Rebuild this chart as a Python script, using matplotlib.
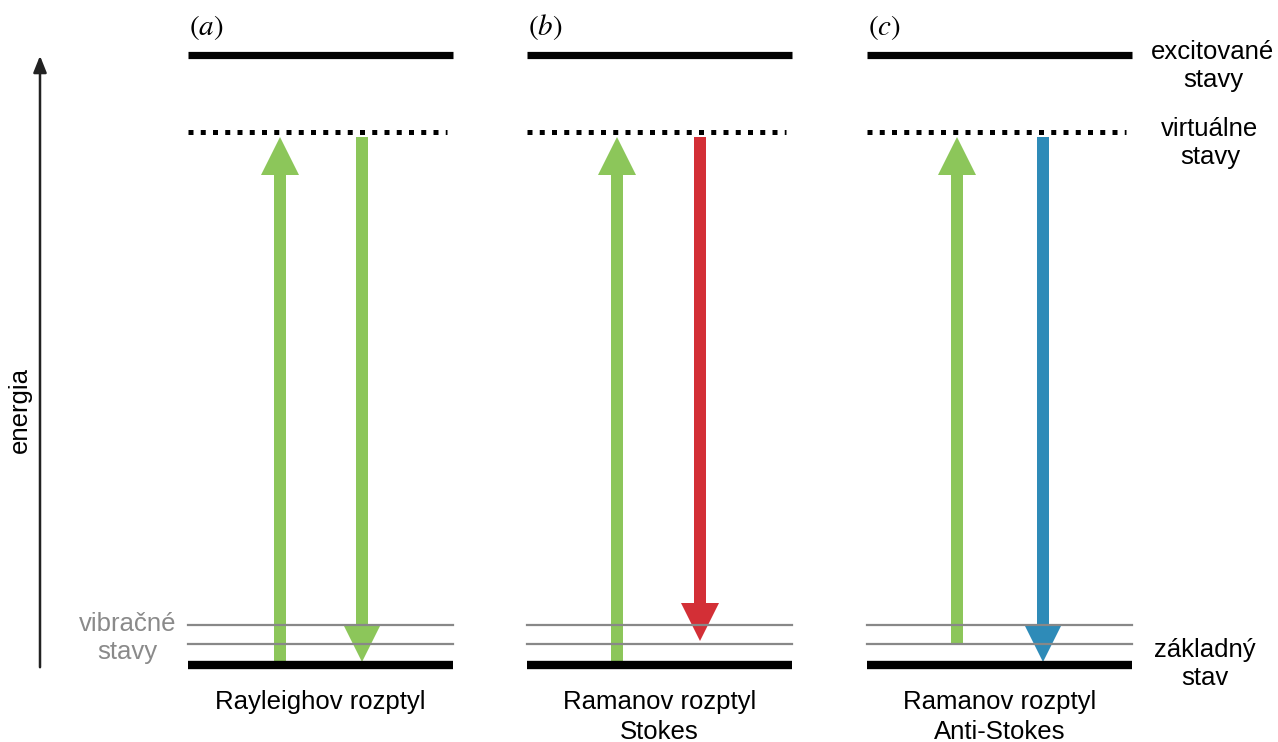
import matplotlib.pyplot as plt
from matplotlib.patches import FancyArrow

# energie hladin (relatívne k základnému stavu)
E_ground = 0
E_vib = [21, 40]
E_virtual = 533
E_excited = 610

panels = ["a", "b", "c"]
panel_x = [(188, 453), (527, 792), (867, 1132)]
titles = ["Rayleighov rozptyl", "Ramanov rozptyl\nStokes", "Ramanov rozptyl\nAnti-Stokes"]

# prechody: (x, začiatok, koniec, farba)
GREEN = "#8cc65a"
RED = "#d32f36"
BLUE = "#2e8bb8"
transitions = [
    (280, E_ground, E_virtual, GREEN),
    (362, E_virtual, E_ground, GREEN),
    (617, E_ground, E_virtual, GREEN),
    (700, E_virtual, E_vib[0], RED),
    (957, E_vib[0], E_virtual, GREEN),
    (1043, E_virtual, E_ground, BLUE),
]

FS = 18.5


def main() -> None:
    """kreslenie diagramu"""
    fig = plt.figure(figsize=(12.78, 7.42), dpi=100)
    ax = fig.add_axes([0, 0, 1, 1])
    ax.set_xlim(0, 1278)
    ax.set_ylim(-77, 665)
    ax.axis("off")

    for name, (x0, x1) in zip(panels, panel_x):
        ax.plot([x0, x1], [E_excited, E_excited], color="black", lw=5.2,
                solid_capstyle="butt")
        ax.plot([x0, x1 - 6], [E_virtual, E_virtual], color="black", lw=3.6,
                linestyle=(0, (1, 1.45)), dash_capstyle="butt")
        for e in E_vib:
            ax.plot([x0, x1], [e, e], color="#888888", lw=1.6)
        ax.plot([x0, x1], [E_ground, E_ground], color="black", lw=6,
                solid_capstyle="butt")
        ax.text(x0 + 1, 638, r"$(\mathit{" + name + "})$", fontsize=21,
                ha="left", va="center")

    for x, y0, y1, c in transitions:
        if y1 > y0:
            start, length = y0, y1 - y0 - 5
        else:
            start, length = y0 - 5, y1 - y0 + 8
        ax.add_patch(FancyArrow(x, start, 0, length, width=12, head_width=38,
                                head_length=38, length_includes_head=True,
                                color=c, lw=0))

    # os energie
    ax.annotate("", xy=(40, 612), xytext=(40, -5),
                arrowprops=dict(arrowstyle="-|>,head_length=1.0,head_width=0.4",
                                color="#222222", lw=1.8))
    ax.text(20, 255, "energia", rotation=90, fontsize=FS, ha="center",
            va="center")

    for (x0, x1), t in zip(panel_x, titles):
        ax.text((x0 + x1) / 2, -25, t, fontsize=FS, ha="center", va="top",
                linespacing=1.32)

    ax.text(1213, 599, "excitované\nstavy", fontsize=FS, ha="center",
            va="center", linespacing=1.25)
    ax.text(1210, 522, "virtuálne\nstavy", fontsize=FS, ha="center",
            va="center", linespacing=1.25)
    ax.text(1205, 1, "základný\nstav", fontsize=FS, ha="center",
            va="center", linespacing=1.25)
    ax.text(176, 27, "vibračné\nstavy", fontsize=FS, ha="right",
            va="center", multialignment="center", linespacing=1.2,
            color="#8a8a8a")

    fig.savefig("out.png", dpi=100)


if __name__ == "__main__":
    plt.rcParams["font.family"] = ["Liberation Sans", "DejaVu Sans"]
    plt.rcParams["mathtext.fontset"] = "stix"
    main()
